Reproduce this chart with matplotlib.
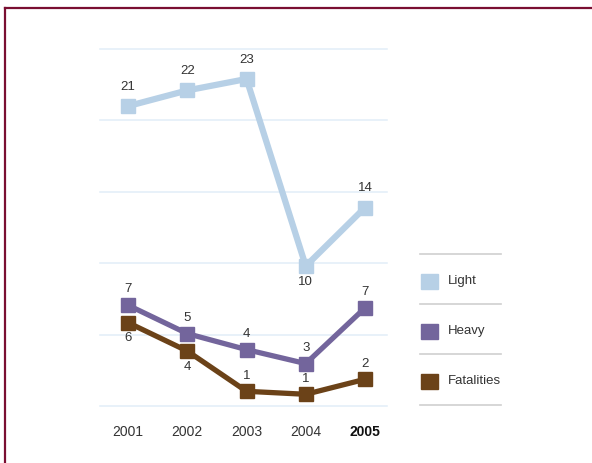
import numpy as np
import matplotlib
matplotlib.use("Agg")
import matplotlib.pyplot as plt
from matplotlib.lines import Line2D
from matplotlib.patches import Rectangle

plt.rcParams['font.family'] = ['Liberation Sans', 'DejaVu Sans']

# data
years = ['2001', '2002', '2003', '2004', '2005']
light = [21.0, 22.1, 22.9, 9.8, 13.9]
heavy = [7.06, 5.07, 3.95, 2.97, 6.87]
fatalities = [5.84, 3.85, 1.03, 0.82, 1.87]

series_names = ['Light', 'Heavy', 'Fatalities']
series_colors = ['#b7d0e6', '#73659c', '#6b4218']
# where each value label sits: +1 above the marker, -1 below
label_side = {
    'Light': [1, 1, 1, -1, 1],
    'Heavy': [1, 1, 1, 1, 1],
    'Fatalities': [-1, -1, 1, 1, 1],
}
grid_vals = [0, 5, 10, 15, 20, 25]

W, H = 592, 463
fig = plt.figure(figsize=(W / 100, H / 100), dpi=100)

# chart area in pixels
left, right, top, bottom = 100, 387, 49, 406
ax = fig.add_axes([left / W, 1 - bottom / H, (right - left) / W, (bottom - top) / H])
ax.set_xlim(-0.473, 4.371)
ax.set_ylim(0, 25)
for s in ax.spines.values():
    s.set_visible(False)
ax.set_yticks([])
for g in grid_vals:
    ax.axhline(g, color='#e2edf8', lw=1.1, zorder=0, clip_on=False)

x = np.arange(len(years))
data = {'Light': light, 'Heavy': heavy, 'Fatalities': fatalities}
widths = {'Light': 4.5, 'Heavy': 3.8, 'Fatalities': 3.8}
above = {'Light': 9.5, 'Heavy': 7, 'Fatalities': 7}
for name, col in zip(series_names, series_colors):
    vals = data[name]
    ax.plot(x, vals, color=col, lw=widths[name], marker='s', markersize=10,
            solid_joinstyle='miter', clip_on=False, zorder=3)
    for xi, v, side in zip(x, vals, label_side[name]):
        off = above[name] if side > 0 else -7
        ax.annotate(str(int(round(v))), (xi, v), xytext=(0, off),
                    textcoords='offset points', ha='center',
                    va='bottom' if side > 0 else 'top',
                    fontsize=9.5, color='#333333')

ax.set_xticks(x)
ax.set_xticklabels(years, fontsize=10, color='#333333')
ax.tick_params(axis='x', length=0, pad=14)
ax.get_xticklabels()[-1].set_fontweight('bold')
ax.get_xticklabels()[-1].set_color('#111111')

# legend drawn by hand with separator lines
lg = fig.add_axes([0, 0, 1, 1])
lg.set_xlim(0, W)
lg.set_ylim(H, 0)
lg.axis('off')
seps = [254, 304, 354, 405]
for yy in seps:
    lg.add_line(Line2D([420, 501], [yy, yy], color='#cfcfcf', lw=1.2))
for i, (name, col) in enumerate(zip(series_names, series_colors)):
    cy = (seps[i] + seps[i + 1]) / 2 + 2
    lg.add_patch(Rectangle((421, cy - 7.5), 17, 15, color=col))
    lg.text(448, cy, name, va='center', ha='left', fontsize=9.5, color='#333333')

# frame on the left and top
lg.add_line(Line2D([5, 5], [8, H], color='#7a0f32', lw=1.6))
lg.add_line(Line2D([5, W], [8, 8], color='#7a0f32', lw=1.6))

fig.savefig('out.png', dpi=100)
